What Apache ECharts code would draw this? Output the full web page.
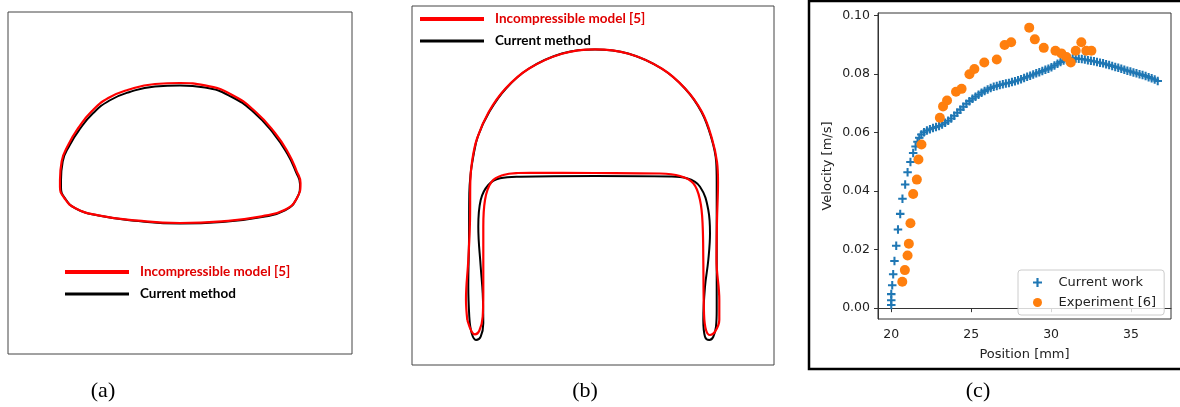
<!DOCTYPE html>
<html>
<head>
<meta charset="utf-8">
<script src="https://cdn.jsdelivr.net/npm/echarts@6/dist/echarts.min.js"></script>
<style>
  html, body { margin: 0; padding: 0; background: #fff; }
  #chart { width: 1180px; height: 407px; }
</style>
</head>
<body>
<div id="chart"></div>
<script>
// (a) drop outline, box units (x from left, y from bottom)
const dropARed = [
  [52, 174], [53.7, 192.7], [60.3, 209.3], [70.3, 226], [83.7, 242.7], [100.3, 256],
  [120.3, 264.3], [147, 270], [172, 271], [197, 268.7], [223.7, 259.3], [247, 242.7],
  [267, 221], [280.3, 201], [288.7, 182.7], [292.5, 171], [289, 156], [277, 144.3],
  [253.7, 137.7], [213.7, 132.7], [172, 131], [130.3, 133.3], [90.3, 138.7], [67, 146],
  [56.3, 156], [52, 167], [52, 174]
];
const dropABlack = [
  [53, 174], [54.7, 192.5], [61.5, 208.5], [71.5, 224.5], [85, 240.7], [101.5, 253.5],
  [121, 261.8], [147, 267.5], [172, 268.5], [197, 266.5], [223, 257.5], [246, 241.5],
  [266, 220], [279.5, 200], [288, 182], [292, 170], [288.7, 155.5], [277, 143.7],
  [254, 137], [214, 132], [172, 130.5], [130.3, 133], [90.5, 138.5], [67.5, 145.7],
  [57, 155.7], [53, 166.5], [53, 174]
];

// (b) drop outline on the cylinder
const dropBRed = [
  [55.3, 45], [54, 65], [56.3, 105], [58, 145], [58.3, 183], [60, 203], [65, 226.3],
  [76.7, 253], [93.3, 276.3], [116.7, 296.3], [150, 311.3], [183, 315.7], [216.7, 311.3],
  [250, 296.3], [273.3, 276.3], [290, 253], [300, 226.3], [305, 203], [306, 183],
  [305, 145], [304.5, 105], [307.3, 65], [307.3, 45], [303, 33.3], [298, 30], [294, 35],
  [292, 51.7], [291.3, 105], [290.7, 138.3], [288, 165], [281.3, 181.7], [268, 189],
  [248, 191.5], [183, 192], [118, 192.2], [106, 192], [91.3, 190], [79.7, 183.3],
  [73, 165], [71.3, 138.3], [71.3, 71.7], [70.7, 48.3], [67.3, 34.3], [63, 30.7],
  [59.7, 33.3], [55.3, 45]
];
const dropBBlack = [
  [57.3, 48.3], [56.3, 78.3], [57, 125], [57.3, 171.7], [58.5, 190], [61, 207], [66, 229],
  [77.5, 253.5], [94, 276.5], [117, 296.5], [150, 311.5], [183, 315.5], [216, 311.5],
  [249.5, 296.5], [273, 276.5], [289.5, 253], [299.5, 226.5], [304.2, 203], [304.7, 183],
  [304.7, 105], [304.7, 55], [304, 38.3], [301.3, 28.3], [297.3, 25], [293, 28.3],
  [291.3, 45], [293, 78.3], [296.3, 105], [298, 131.7], [296.3, 155], [288, 178.3],
  [274.7, 186.7], [258, 188.5], [183, 189], [108, 188.3], [88, 186.7], [76.3, 180],
  [68.7, 165], [66.3, 138.3], [68.7, 98.3], [70.7, 71.7], [71.3, 41.7], [68.7, 28.3],
  [64, 25], [59.7, 31.7], [57.3, 48.3]
];

// (c) velocity vs position
const currentPos = [
  20.0, 20.0, 20.0, 20.06, 20.12, 20.2, 20.31, 20.42, 20.56, 20.7, 20.87, 21.02, 21.2,
  21.37, 21.52, 21.64, 21.75, 21.88, 22.05, 22.23, 22.42, 22.61, 22.8, 22.99, 23.18,
  23.37, 23.56, 23.75, 23.94, 24.13, 24.32, 24.51, 24.7, 24.89, 25.08, 25.27, 25.46,
  25.65, 25.84, 26.03, 26.22, 26.41, 26.6, 26.79, 26.98, 27.17, 27.36, 27.55, 27.74,
  27.93, 28.12, 28.31, 28.5, 28.69, 28.88, 29.07, 29.26, 29.45, 29.64, 29.83, 30.02,
  30.21, 30.4, 30.59, 30.78, 30.97, 31.16, 31.35, 31.54, 31.73, 31.92, 32.11, 32.3,
  32.49, 32.68, 32.87, 33.06, 33.25, 33.44, 33.63, 33.82, 34.01, 34.2, 34.39, 34.58,
  34.77, 34.96, 35.15, 35.34, 35.53, 35.72, 35.91, 36.1, 36.29, 36.48, 36.67
];
const currentVel = [
  0.0011, 0.0027, 0.0048, 0.0078, 0.0116, 0.0161, 0.0213, 0.0269, 0.0322, 0.0374, 0.0422,
  0.0464, 0.0499, 0.053, 0.0552, 0.0568, 0.0582, 0.0593, 0.0601, 0.0607, 0.0611, 0.0615,
  0.0619, 0.0622, 0.0627, 0.0633, 0.064, 0.0648, 0.0657, 0.0667, 0.0678, 0.0688, 0.0698,
  0.0707, 0.0715, 0.0722, 0.0729, 0.0736, 0.0742, 0.0747, 0.0752, 0.0756, 0.0759, 0.0762,
  0.0765, 0.0767, 0.0769, 0.0772, 0.0775, 0.0778, 0.0782, 0.0786, 0.079, 0.0794, 0.0798,
  0.0802, 0.0806, 0.081, 0.0814, 0.0818, 0.0823, 0.0829, 0.0835, 0.0841, 0.0846, 0.0849,
  0.0851, 0.0853, 0.0853, 0.0852, 0.0851, 0.0849, 0.0847, 0.0845, 0.0843, 0.0841, 0.0838,
  0.0836, 0.0833, 0.083, 0.0827, 0.0824, 0.0821, 0.0818, 0.0814, 0.0811, 0.0808, 0.0805,
  0.0802, 0.0799, 0.0796, 0.0793, 0.0789, 0.0785, 0.0781, 0.0776
];
const expPos = [
  20.69, 20.85, 21.02, 21.1, 21.2, 21.37, 21.6, 21.7, 21.89, 23.04, 23.24, 23.49, 24.05,
  24.4, 24.89, 25.2, 25.82, 26.6, 27.09, 27.5, 28.63, 28.98, 29.54, 30.27, 30.64, 30.96,
  31.23, 31.54, 31.89, 32.2, 32.52
];
const expVel = [
  0.009, 0.013, 0.018, 0.022, 0.029, 0.039, 0.0439, 0.0508, 0.0559, 0.065, 0.0689, 0.0709,
  0.0739, 0.0749, 0.0799, 0.0817, 0.0839, 0.0849, 0.0899, 0.0908, 0.0958, 0.0918, 0.0889,
  0.0879, 0.087, 0.0858, 0.0839, 0.0879, 0.0908, 0.0879, 0.0879
];
const xTicks = [20, 25, 30, 35];
const yTicks = [0, 0.02, 0.04, 0.06, 0.08, 0.1];

const RED = "#ff0000";
const plusPath = "path://M-1.2,-5H1.2V-1.2H5V1.2H1.2V5H-1.2V1.2H-5V-1.2H-1.2Z";

let chart = echarts.init(document.getElementById("chart"));

function shapeLine(name, data, color, width, idx, smooth) {
  return {
    name: name,
    type: "line",
    xAxisIndex: idx,
    yAxisIndex: idx,
    data: data,
    symbol: "none",
    smooth: smooth,
    silent: true,
    animation: false,
    lineStyle: { color: color, width: width },
    itemStyle: { color: color }
  };
}

const lineLegend = {
  orient: "vertical",
  selectedMode: false,
  itemWidth: 64,
  itemHeight: 4,
  itemGap: 6,
  padding: 0,
  textStyle: {
    fontFamily: "Lato",
    fontWeight: "bold",
    fontSize: 13.5,
    lineHeight: 16,
    padding: [0, 0, 0, 6]
  },
  data: [
    { name: "Incompressible model [5]", icon: "path://M0,0H64V4H0Z", textStyle: { color: "#e00000" } },
    { name: "Current method", icon: "path://M0,0H64V3H0Z", textStyle: { color: "#000" } }
  ]
};

const panelLabel = (txt, x) => ({
  type: "text", x: x, y: 391,
  style: { text: txt, font: "22px 'Liberation Serif'", fill: "#000", textAlign: "center", textVerticalAlign: "middle" }
});

chart.setOption({
  backgroundColor: "#fff",
  animation: false,
  grid: [
    { left: 8, top: 12, width: 344, height: 342, show: true, borderColor: "#444", borderWidth: 1 },
    { left: 412, top: 6, width: 362, height: 359, show: true, borderColor: "#444", borderWidth: 1 },
    { left: 878, top: 13, width: 293, height: 306, show: true, borderColor: "#333", borderWidth: 1 }
  ],
  xAxis: [
    { type: "value", gridIndex: 0, min: 0, max: 344, show: false },
    { type: "value", gridIndex: 1, min: 0, max: 362, show: false },
    {
      type: "value",
      gridIndex: 2,
      min: 19.17,
      max: 37.5,
      name: "Position [mm]",
      nameLocation: "middle",
      nameGap: 29,
      nameTextStyle: { fontFamily: "DejaVu Sans", fontSize: 13, color: "#222" },
      axisLine: { show: true, lineStyle: { color: "#333", width: 1 } },
      axisTick: { show: true, length: 4, lineStyle: { color: "#333" }, customValues: xTicks },
      axisLabel: {
        customValues: xTicks,
        margin: 9,
        fontFamily: "DejaVu Sans",
        fontSize: 12.5,
        color: "#222"
      },
      splitLine: { show: false }
    }
  ],
  yAxis: [
    { type: "value", gridIndex: 0, min: 0, max: 342, show: false },
    { type: "value", gridIndex: 1, min: 0, max: 359, show: false },
    {
      type: "value",
      gridIndex: 2,
      min: -0.0037,
      max: 0.1008,
      name: "Velocity [m/s]",
      nameLocation: "middle",
      nameGap: 44,
      nameTextStyle: { fontFamily: "DejaVu Sans", fontSize: 13, color: "#222" },
      axisLine: { show: true, lineStyle: { color: "#333", width: 1 } },
      axisTick: { show: true, length: 4, lineStyle: { color: "#333" }, customValues: yTicks },
      axisLabel: {
        customValues: yTicks,
        margin: 8,
        fontFamily: "DejaVu Sans",
        fontSize: 12.5,
        color: "#222",
        formatter: v => v.toFixed(2)
      },
      splitLine: { show: false }
    }
  ],
  legend: [
    Object.assign({}, lineLegend, { left: 65, top: 264 }),
    Object.assign({}, lineLegend, { left: 420, top: 11 }),
    {
      orient: "vertical",
      selectedMode: false,
      left: 1018,
      top: 270,
      padding: [5, 8, 5, 15],
      itemWidth: 32,
      itemHeight: 9,
      itemGap: 5,
      borderColor: "#cccccc",
      borderWidth: 1,
      borderRadius: 3,
      backgroundColor: "rgba(255,255,255,0.8)",
      textStyle: { fontFamily: "DejaVu Sans", fontSize: 13, lineHeight: 15, color: "#222" },
      data: [
        { name: "Current work", icon: plusPath },
        { name: "Experiment [6]", icon: "circle" }
      ]
    }
  ],
  graphic: [
    {
      type: "rect",
      shape: { x: 809, y: 1, width: 380, height: 368 },
      style: { fill: "none", stroke: "#000", lineWidth: 2.5 },
      silent: true
    },
    panelLabel("(a)", 103),
    panelLabel("(b)", 585),
    panelLabel("(c)", 978)
  ],
  series: [
    shapeLine("Current method", dropABlack, "#000", 2, 0, 0.5),
    shapeLine("Incompressible model [5]", dropARed, RED, 2.2, 0, 0.5),
    shapeLine("Current method", dropBBlack, "#000", 2, 1, 0.4),
    shapeLine("Incompressible model [5]", dropBRed, RED, 2.2, 1, 0.4),
    {
      name: "Current work",
      type: "scatter",
      xAxisIndex: 2,
      yAxisIndex: 2,
      symbol: plusPath,
      symbolSize: 8.5,
      itemStyle: { color: "#1f77b4", opacity: 1 },
      data: currentPos.map((x, i) => [x, currentVel[i]])
    },
    {
      name: "Experiment [6]",
      type: "scatter",
      xAxisIndex: 2,
      yAxisIndex: 2,
      symbol: "circle",
      symbolSize: 10,
      itemStyle: { color: "#ff7f0e", opacity: 1 },
      data: expPos.map((x, i) => [x, expVel[i]])
    }
  ]
});

window.addEventListener("resize", () => {
  chart.resize();
});
</script>
</body>
</html>
